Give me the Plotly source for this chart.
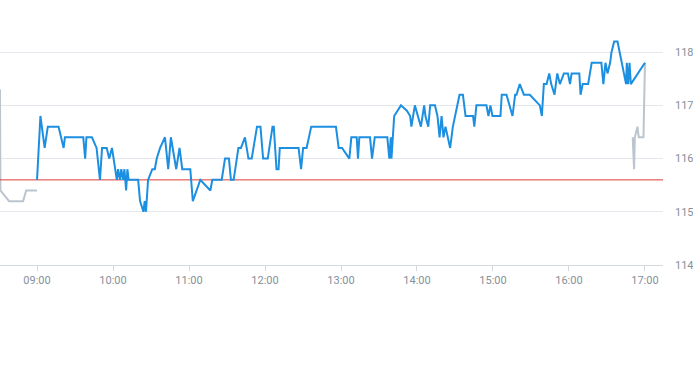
import plotly.graph_objects as go

DAY = "2024-01-02 "

# Regular session (blue)
session_times = [
    "09:00:00", "09:02:40", "09:06:00", "09:08:30", "09:17:00", "09:21:00", "09:22:00", "09:36:30",
    "09:38:00", "09:39:00", "09:43:20", "09:47:00", "09:49:40", "09:51:20", "09:55:00", "09:57:00",
    "09:59:10", "10:01:20", "10:03:00", "10:04:00", "10:05:30", "10:06:30", "10:08:00", "10:09:00",
    "10:10:20", "10:11:20", "10:12:20", "10:19:50", "10:21:20", "10:24:00", "10:25:00", "10:26:00",
    "10:27:40", "10:31:00", "10:33:00", "10:34:30", "10:37:10", "10:41:00", "10:43:35", "10:45:40",
    "10:49:55", "10:52:30", "10:54:40", "11:01:00", "11:03:00", "11:08:55", "11:16:50", "11:18:25",
    "11:25:50", "11:28:25", "11:31:30", "11:33:05", "11:35:15", "11:39:00", "11:41:00", "11:44:10",
    "11:46:55", "11:49:30", "11:53:40", "11:56:25", "11:58:30", "12:02:10", "12:05:55", "12:06:55",
    "12:09:05", "12:10:40", "12:11:40", "12:26:30", "12:28:30", "12:30:05", "12:32:50", "12:36:30",
    "12:56:00", "12:58:10", "13:00:50", "13:06:35", "13:08:10", "13:12:25", "13:13:25", "13:14:30",
    "13:22:55", "13:24:30", "13:26:40", "13:36:35", "13:38:10", "13:39:20", "13:39:50", "13:42:00",
    "13:44:35", "13:47:20", "13:52:00", "13:54:35", "13:55:35", "13:58:20", "14:03:05", "14:05:40",
    "14:06:40", "14:08:55", "14:10:25", "14:14:10", "14:16:10", "14:17:50", "14:19:25", "14:20:55",
    "14:22:30", "14:24:05", "14:26:10", "14:28:20", "14:31:30", "14:33:35", "14:36:15", "14:38:20",
    "14:44:15", "14:45:15", "14:46:55", "14:54:50", "14:56:25", "14:58:00", "14:59:35", "15:05:55",
    "15:06:55", "15:10:40", "15:15:25", "15:17:30", "15:18:35", "15:21:10", "15:24:25", "15:29:05",
    "15:37:00", "15:38:35", "15:40:10", "15:42:20", "15:44:25", "15:46:00", "15:48:35", "15:50:45",
    "15:52:50", "15:56:00", "15:57:35", "15:59:10", "16:00:50", "16:02:05", "16:08:10", "16:09:10",
    "16:10:50", "16:12:55", "16:15:10", "16:17:55", "16:25:35", "16:27:10", "16:28:50", "16:30:25",
    "16:32:30", "16:33:35", "16:35:40", "16:38:20", "16:43:35", "16:45:05", "16:45:40", "16:46:40",
    "16:47:50", "16:48:50", "17:00:00",
]
session_values = [
    115.6, 116.8, 116.2, 116.6, 116.6, 116.2, 116.4, 116.4,
    116.0, 116.4, 116.4, 116.2, 115.6, 116.2, 116.2, 116.0,
    116.2, 115.8, 115.6, 115.8, 115.6, 115.8, 115.6, 115.8,
    115.4, 115.8, 115.6, 115.6, 115.2, 115.0, 115.2, 115.0,
    115.6, 115.8, 115.8, 116.0, 116.2, 116.4, 115.8, 116.4,
    115.8, 116.2, 115.8, 115.8, 115.2, 115.6, 115.4, 115.6,
    115.6, 116.0, 116.0, 115.6, 115.6, 116.2, 116.2, 116.4,
    116.0, 116.0, 116.6, 116.6, 116.0, 116.0, 116.6, 116.6,
    115.8, 115.8, 116.2, 116.2, 115.8, 116.2, 116.2, 116.6,
    116.6, 116.2, 116.2, 116.0, 116.4, 116.4, 116.0, 116.4,
    116.4, 116.0, 116.4, 116.4, 116.0, 116.4, 116.0, 116.8,
    116.9, 117.0, 116.9, 116.8, 116.6, 117.0, 116.6, 117.0,
    116.8, 116.6, 117.0, 117.0, 116.8, 116.4, 116.8, 116.4,
    116.6, 116.4, 116.2, 116.6, 117.0, 117.2, 117.2, 116.8,
    116.8, 116.6, 117.0, 117.0, 116.8, 117.0, 116.8, 116.8,
    117.2, 117.2, 116.8, 117.2, 117.2, 117.4, 117.2, 117.2,
    117.0, 116.8, 117.4, 117.4, 117.6, 117.4, 117.2, 117.6,
    117.4, 117.6, 117.6, 117.6, 117.4, 117.6, 117.6, 117.2,
    117.4, 117.4, 117.4, 117.8, 117.8, 117.4, 117.8, 117.6,
    117.8, 118.0, 118.2, 118.2, 117.6, 117.4, 117.8, 117.4,
    117.8, 117.4, 117.8,
]

# Pre-market (grey)
pre_times = ["08:30:45", "08:31:05", "08:37:55", "08:49:00", "08:51:25", "09:00:00"]
pre_values = [117.3, 115.4, 115.2, 115.2, 115.4, 115.4]

# After-hours (grey)
post_times = ["16:50:20", "16:51:25", "16:52:00", "16:54:05", "16:55:05", "16:58:50", "17:00:00"]
post_values = [116.4, 115.8, 116.4, 116.6, 116.4, 116.4, 117.8]

previous_close = 115.6

x_range = ["08:30:45", "17:14:15"]
y_range = [114, 118.98]
y_ticks = [114, 115, 116, 117, 118]

BLUE = "#1c8fe0"
GREY = "#bcc5ce"
RED = "#de3b35"
TICK_COLOR = "#85909c"

fig = go.Figure()
fig.add_trace(go.Scatter(
    x=[DAY + t for t in pre_times], y=pre_values, mode="lines",
    line=dict(color=GREY, width=2), hoverinfo="skip", showlegend=False))
fig.add_trace(go.Scatter(
    x=[DAY + t for t in post_times], y=post_values, mode="lines",
    line=dict(color=GREY, width=2), hoverinfo="skip", showlegend=False))
fig.add_trace(go.Scatter(
    x=[DAY + x_range[0], DAY + x_range[1]], y=[previous_close, previous_close], mode="lines",
    line=dict(color=RED, width=1), hoverinfo="skip", showlegend=False))
fig.add_trace(go.Scatter(
    x=[DAY + t for t in session_times], y=session_values, mode="lines",
    line=dict(color=BLUE, width=2), showlegend=False))

fig.update_layout(
    width=693, height=365,
    margin=dict(l=0, r=30, t=0, b=100, autoexpand=False),
    paper_bgcolor="white", plot_bgcolor="white",
    font=dict(family="Roboto, Arial, sans-serif", size=11, color=TICK_COLOR),
    xaxis=dict(
        type="date", range=[DAY + x_range[0], DAY + x_range[1]],
        tick0=DAY + "09:00:00", dtick=3600000, tickformat="%H:%M",
        showgrid=False, showline=True, linecolor="#d3d8dd", linewidth=1,
        ticks="outside", ticklen=5, tickcolor="#d3d8dd", tickwidth=1,
        tickfont=dict(size=11, color=TICK_COLOR), zeroline=False, fixedrange=True,
        automargin=False,
    ),
    yaxis=dict(
        side="right", range=y_range, tickvals=y_ticks,
        showgrid=True, gridcolor="#e4e7eb", gridwidth=1,
        showline=False, zeroline=False, ticks="",
        ticklabelstandoff=11, automargin=False,
        tickfont=dict(size=11, color=TICK_COLOR), fixedrange=True,
    ),
)

fig.write_html(
    "out.html",
    config={"displayModeBar": False},
    post_script="document.body.style.margin='0px';",
)
